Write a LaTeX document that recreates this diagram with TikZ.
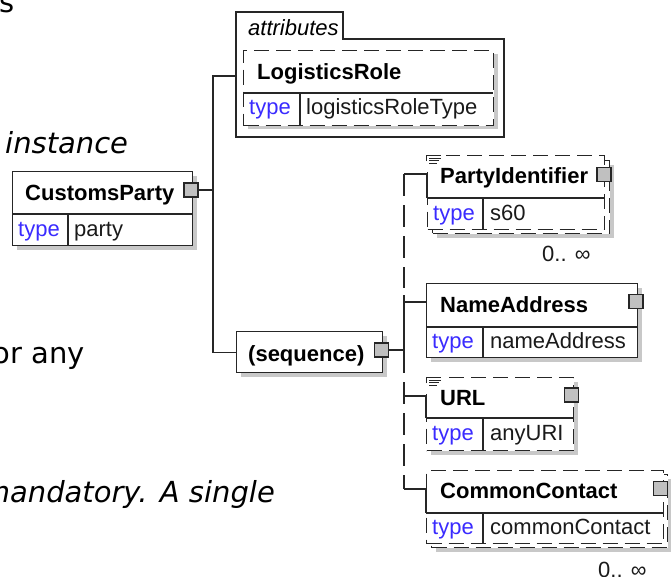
\documentclass[tikz,border=0pt]{standalone}
\usepackage{fontspec}
\setmainfont{Liberation Sans}
\newfontfamily\notefont{DejaVu Sans}
\usetikzlibrary{positioning,calc}
\definecolor{linegray}{HTML}{262626}
\definecolor{shadowgray}{HTML}{C8C8C8}
\definecolor{plusgray}{HTML}{C0C0C0}
\definecolor{typeblue}{HTML}{3A2BFF}
\definecolor{valuetext}{HTML}{1A1A1A}

\tikzset{
  elem/.style={draw=linegray, line width=1.4pt, fill=white, inner sep=0pt, anchor=north west},
  optelem/.style={elem, dash pattern=on 15pt off 7pt},
  shadowbox/.style={fill=shadowgray},
  plusbox/.style={draw=linegray, line width=1.1pt, fill=plusgray, minimum size=14pt, inner sep=0pt},
  conn/.style={draw=linegray, line width=1.3pt},
  optconn/.style={conn, dash pattern=on 22pt off 9pt},
  divider/.style={draw=linegray, line width=1.2pt},
  ename/.style={anchor=base west, inner sep=0pt, font=\fontsize{22}{26}\selectfont\bfseries},
  etype/.style={anchor=base west, inner sep=0pt, font=\fontsize{22}{26}\selectfont, text=typeblue},
  evalue/.style={anchor=base west, inner sep=0pt, font=\fontsize{22}{26}\selectfont, text=valuetext},
  notetext/.style={inner sep=0pt, font=\notefont\fontsize{29}{34}\selectfont},
  docicon/.style={draw=linegray, line width=0.9pt},
}

\begin{document}
\begin{tikzpicture}[x=1pt, y=-1pt]
\useasboundingbox (0,0) rectangle (671,576);
\clip (0,0) rectangle (671,576);
\fill[white] (0,0) rectangle (671,576);

% text of the page around the picture
\node[notetext, anchor=base west] (noteS) at (-1,12) {s};
\node[notetext, anchor=base west] (noteInstance) at (5,153) {\itshape instance};
\node[notetext, anchor=base east] (noteAny) at (85,363) {or any};
\node[notetext, anchor=base east] (noteSingle) at (275,502) {\itshape mandatory. A single};

% CustomsParty
\fill[shadowbox] (17,176) rectangle (197,250);
\node[elem, minimum width=180pt, minimum height=74pt] (custParty) at (12,171) {};
\draw[divider] (12,214) -- (192,214);
\draw[divider] (68,214) -- (68,245);
\node[ename] (custName) at (25,200) {CustomsParty};
\node[etype] (custType) at (18,236) {type};
\node[evalue] (custValue) at (74,236) {party};
\node[plusbox] (custPlus) at (191,190) {};

% attributes
\draw[conn, fill=white] (236,137) -- (236,12) -- (343,12) -- (343,39) -- (504,39) -- (504,137) -- cycle;
\node[anchor=base west, inner sep=0pt, font=\fontsize{22}{26}\selectfont\itshape] (attrLabel) at (248,35) {attributes};
\fill[shadowbox] (248,54) rectangle (498,129);
\node[optelem, minimum width=250pt, minimum height=75pt] (logRole) at (243,50) {};
\draw[divider] (243,93) -- (493,93);
\draw[divider] (300,93) -- (300,125);
\node[ename] (logName) at (257,79) {LogisticsRole};
\node[etype] (logType) at (249,114) {type};
\node[evalue] (logValue) at (306,114) {logisticsRoleType};

% (sequence)
\fill[shadowbox] (241,336) rectangle (387,377);
\node[elem, minimum width=146pt, minimum height=41pt] (seqBox) at (236,331) {};
\node[ename] (seqName) at (248,361) {(sequence)};
\node[plusbox] (seqPlus) at (381.5,350) {};

% PartyIdentifier
\fill[shadowbox] (437,165) rectangle (614,238);
\node[optelem, minimum width=177pt, minimum height=73pt] (pidBack) at (432,160) {};
\node[optelem, minimum width=177pt, minimum height=74pt] (partyId) at (427,155) {};
\fill[white] (425,152) rectangle (446,172);
\draw[docicon] (426,161) -- (426,155) -- (441,155);
\draw[docicon] (429,158) -- (441,158) (429,160.5) -- (439,160.5) (429,163) -- (437,163);
\draw[divider] (427,198) -- (604,198);
\draw[divider] (483,198) -- (483,229);
\node[ename] (pidName) at (440,183) {PartyIdentifier};
\node[etype] (pidType) at (433,220) {type};
\node[evalue] (pidValue) at (490,220) {s60};
\node[plusbox] (pidPlus) at (604,174.5) {};
\node[evalue] (pidCount) at (542,261) {0.. ∞};

% NameAddress
\fill[shadowbox] (431,288) rectangle (642,362);
\node[elem, minimum width=211pt, minimum height=74pt] (nameAddr) at (426,283) {};
\draw[divider] (426,327) -- (637,327);
\draw[divider] (483,327) -- (483,357);
\node[ename] (naName) at (440,312) {NameAddress};
\node[etype] (naType) at (432,348) {type};
\node[evalue] (naValue) at (490,348) {nameAddress};
\node[plusbox] (naPlus) at (636,301.5) {};

% URL
\fill[shadowbox] (431,382) rectangle (578,455);
\node[optelem, minimum width=147pt, minimum height=73pt] (urlBox) at (426,377) {};
\fill[white] (424,374) rectangle (445,394);
\draw[docicon] (426,383) -- (426,377) -- (441,377);
\draw[docicon] (429,380) -- (441,380) (429,382.5) -- (439,382.5) (429,385) -- (437,385);
\draw[divider] (426,418) -- (573,418);
\draw[divider] (483,418) -- (483,450);
\node[ename] (urlName) at (440,405) {URL};
\node[etype] (urlType) at (432,440) {type};
\node[evalue] (urlValue) at (490,440) {anyURI};
\node[plusbox] (urlPlus) at (571.5,395) {};

% CommonContact
\fill[shadowbox] (436,479) rectangle (672,552);
\node[optelem, minimum width=236pt, minimum height=73pt] (ccBack) at (431,474) {};
\node[optelem, minimum width=237pt, minimum height=73pt] (commContact) at (426,470) {};
\draw[divider] (426,513) -- (663,513);
\draw[divider] (483,513) -- (483,543);
\node[ename] (ccName) at (440,498) {CommonContact};
\node[etype] (ccType) at (432,534) {type};
\node[evalue] (ccValue) at (490,534) {commonContact};
\node[plusbox] (ccPlus) at (660.5,488.5) {};
\node[evalue] (ccCount) at (598,577) {0.. ∞};

% connectors
\coordinate (trunk) at (213,190);
\coordinate (attrIn) at (236,76);
\coordinate (seqBar) at (404,350);
\draw[conn] (custPlus.east) -- (trunk);
\draw[conn] (trunk) |- (attrIn);
\draw[conn] (trunk) |- (seqBox.west);
\draw[conn] (seqPlus.east) -- (seqBar);

\coordinate (pidCorner) at (404,174);
\coordinate (pidBar) at (404,288);
\coordinate (pidIn) at (427,174);
\draw[conn] (pidCorner) -- (pidIn) -- (pidIn |- 0,198);
\draw[optconn] (pidCorner) -- (pidBar);

\coordinate (naTop) at (404,295);
\coordinate (naBot) at (404,373);
\coordinate (naIn) at (426,302);
\draw[conn] (naTop) -- (naBot);
\draw[conn] (naTop |- naIn) -- (naIn);

\coordinate (urlTop) at (404,382);
\coordinate (urlIn) at (426,396);
\coordinate (ccCorner) at (404,489);
\coordinate (ccIn) at (426,489);
\draw[optconn] (urlTop) -- (ccCorner);
\draw[conn] (urlTop |- urlIn) -- (urlIn) -- (urlIn |- 0,418);
\draw[conn] (ccCorner) -- (ccIn) -- (ccIn |- 0,513);
\end{tikzpicture}
\end{document}
